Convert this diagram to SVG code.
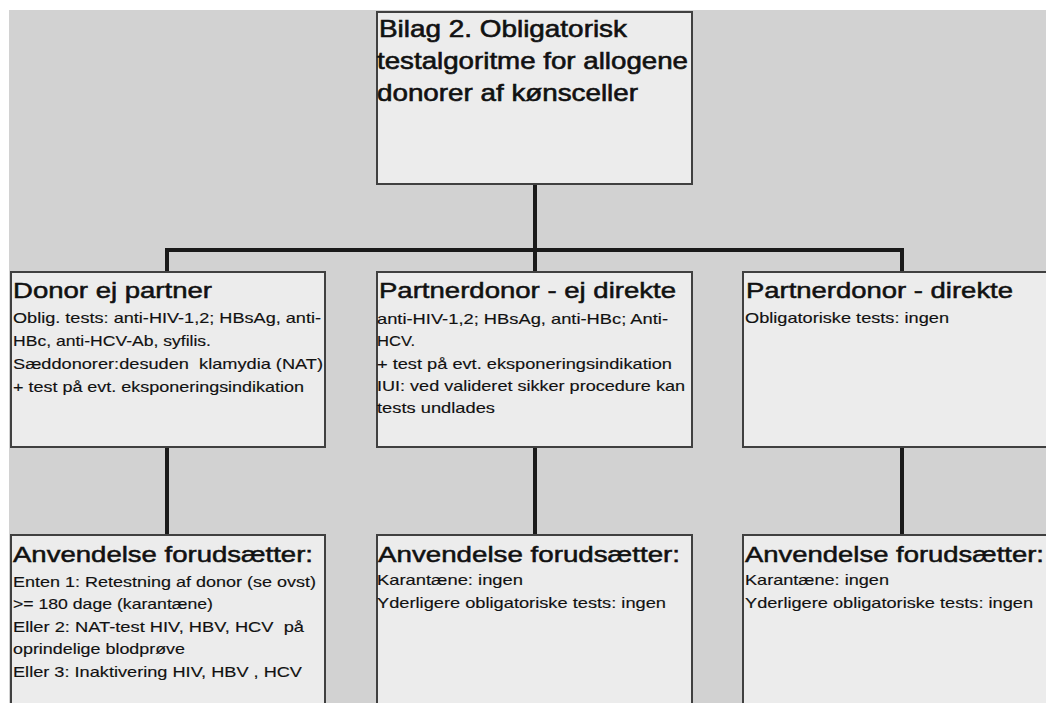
<svg xmlns="http://www.w3.org/2000/svg" width="1046" height="703" viewBox="0 0 1046 703">
<style>
.box{fill:#ececec;stroke:#404040;stroke-width:2}
.t{font-family:"Liberation Sans",Arial,sans-serif;fill:#111}
.h0{font-size:24px;stroke:#111;stroke-width:0.6}
.h1{font-size:22px;stroke:#111;stroke-width:0.5}
.b{font-size:15px;stroke:#111;stroke-width:0.15}
.c{stroke:#1a1a1a;stroke-width:4;fill:none}
</style>
<rect x="0" y="0" width="1046" height="703" fill="#ffffff"/>
<rect x="9" y="10" width="1037" height="693" fill="#d2d2d2"/>
<g id="connectors">
<line class="c" x1="535" y1="184" x2="535" y2="250"/>
<line class="c" x1="165" y1="250" x2="904" y2="250"/>
<line class="c" x1="167" y1="248" x2="167" y2="272"/>
<line class="c" x1="535" y1="248" x2="535" y2="272"/>
<line class="c" x1="902" y1="248" x2="902" y2="272"/>
<line class="c" x1="167" y1="447" x2="167" y2="535"/>
<line class="c" x1="535" y1="447" x2="535" y2="535"/>
<line class="c" x1="902" y1="447" x2="902" y2="535"/>
</g>
<g id="title">
<rect class="box" x="377" y="12" width="315" height="172"/>
<text class="t h0" x="379" y="37" textLength="248" lengthAdjust="spacingAndGlyphs">Bilag 2. Obligatorisk</text>
<text class="t h0" x="377" y="69" textLength="311" lengthAdjust="spacingAndGlyphs">testalgoritme for allogene</text>
<text class="t h0" x="377" y="101" textLength="261" lengthAdjust="spacingAndGlyphs">donorer af kønsceller</text>
</g>
<g id="donor-ej-partner">
<rect class="box" x="11" y="272" width="314" height="175"/>
<text class="t h1" x="13" y="298" textLength="199" lengthAdjust="spacingAndGlyphs">Donor ej partner</text>
<text class="t b" x="13" y="323" textLength="308" lengthAdjust="spacingAndGlyphs">Oblig. tests: anti-HIV-1,2; HBsAg, anti-</text>
<text class="t b" x="13" y="346" textLength="198" lengthAdjust="spacingAndGlyphs">HBc, anti-HCV-Ab, syfilis.</text>
<text class="t b" x="13" y="369" textLength="310" lengthAdjust="spacingAndGlyphs" xml:space="preserve">Sæddonorer:desuden  klamydia (NAT)</text>
<text class="t b" x="13" y="392" textLength="291" lengthAdjust="spacingAndGlyphs">+ test på evt. eksponeringsindikation</text>
</g>
<g id="partnerdonor-ej-direkte">
<rect class="box" x="377" y="272" width="315" height="175"/>
<text class="t h1" x="379" y="298" textLength="297" lengthAdjust="spacingAndGlyphs">Partnerdonor - ej direkte</text>
<text class="t b" x="377" y="324" textLength="291" lengthAdjust="spacingAndGlyphs">anti-HIV-1,2; HBsAg, anti-HBc; Anti-</text>
<text class="t b" x="377" y="346" textLength="38" lengthAdjust="spacingAndGlyphs">HCV.</text>
<text class="t b" x="377" y="369" textLength="295" lengthAdjust="spacingAndGlyphs">+ test på evt. eksponeringsindikation</text>
<text class="t b" x="377" y="391" textLength="308" lengthAdjust="spacingAndGlyphs">IUI: ved valideret sikker procedure kan</text>
<text class="t b" x="377" y="413" textLength="118" lengthAdjust="spacingAndGlyphs">tests undlades</text>
</g>
<g id="partnerdonor-direkte">
<rect class="box" x="743" y="272" width="310" height="175"/>
<text class="t h1" x="746" y="298" textLength="267" lengthAdjust="spacingAndGlyphs">Partnerdonor - direkte</text>
<text class="t b" x="745" y="323" textLength="204" lengthAdjust="spacingAndGlyphs">Obligatoriske tests: ingen</text>
</g>
<g id="anvendelse-1">
<rect class="box" x="11" y="535" width="314" height="180"/>
<text class="t h1" x="13" y="562" textLength="300" lengthAdjust="spacingAndGlyphs">Anvendelse forudsætter:</text>
<text class="t b" x="13" y="587" textLength="303" lengthAdjust="spacingAndGlyphs">Enten 1: Retestning af donor (se ovst)</text>
<text class="t b" x="13" y="609" textLength="200" lengthAdjust="spacingAndGlyphs">&gt;= 180 dage (karantæne)</text>
<text class="t b" x="13" y="632" textLength="291" lengthAdjust="spacingAndGlyphs" xml:space="preserve">Eller 2: NAT-test HIV, HBV, HCV  på</text>
<text class="t b" x="13" y="654" textLength="172" lengthAdjust="spacingAndGlyphs">oprindelige blodprøve</text>
<text class="t b" x="13" y="677" textLength="289" lengthAdjust="spacingAndGlyphs">Eller 3: Inaktivering HIV, HBV , HCV</text>
</g>
<g id="anvendelse-2">
<rect class="box" x="377" y="535" width="315" height="180"/>
<text class="t h1" x="378" y="562" textLength="302" lengthAdjust="spacingAndGlyphs">Anvendelse forudsætter:</text>
<text class="t b" x="377" y="585" textLength="146" lengthAdjust="spacingAndGlyphs">Karantæne: ingen</text>
<text class="t b" x="377" y="608" textLength="289" lengthAdjust="spacingAndGlyphs">Yderligere obligatoriske tests: ingen</text>
</g>
<g id="anvendelse-3">
<rect class="box" x="743" y="535" width="310" height="180"/>
<text class="t h1" x="745" y="562" textLength="299" lengthAdjust="spacingAndGlyphs">Anvendelse forudsætter:</text>
<text class="t b" x="745" y="585" textLength="144" lengthAdjust="spacingAndGlyphs">Karantæne: ingen</text>
<text class="t b" x="745" y="608" textLength="288" lengthAdjust="spacingAndGlyphs">Yderligere obligatoriske tests: ingen</text>
</g>
</svg>
